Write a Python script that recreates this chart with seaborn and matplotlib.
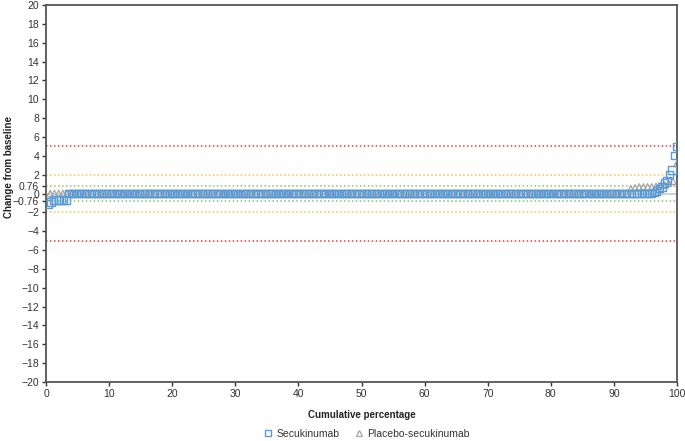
import numpy as np
import pandas as pd
import matplotlib
matplotlib.use("Agg")
import matplotlib.pyplot as plt
from matplotlib.lines import Line2D
import seaborn as sns

# ---- data (sorted change-from-baseline values) ----
secu_low = [-1.1, -0.9, -0.7, -0.7, -0.7, -0.7, -0.7, -0.7]
secu_mid_zero_count = 232
secu_high = [0.1, 0.25, 0.5, 0.7, 1.1, 1.4, 2.0, 2.5, 4.0, 5.0]

placebo_low = []
placebo_mid_zero_count = 138
placebo_high = [0.5, 0.6, 0.7, 0.7, 0.7, 0.7, 0.75, 0.8, 0.9, 1.1, 1.3, 3.2]

series_names = ["Secukinumab", "Placebo-secukinumab"]
ref_lines = [5, 2, 0.76, -0.76, -2, -5]
ref_colors = ["#e8403a", "#f6c34a", "#8dc25a", "#8dc25a", "#f6c34a", "#e8403a"]
yticks = [20, 18, 16, 14, 12, 10, 8, 6, 4, 2, 0.76, 0, -0.76, -2, -4, -6, -8,
          -10, -12, -14, -16, -18, -20]
xticks = [0, 10, 20, 30, 40, 50, 60, 70, 80, 90, 100]

secu_vals = secu_low + [0.0] * secu_mid_zero_count + secu_high
plac_vals = placebo_low + [0.0] * placebo_mid_zero_count + placebo_high


def cum_df(vals, name):
    n = len(vals)
    return pd.DataFrame({
        "pct": [(i + 1) / n * 100 for i in range(n)],
        "change": sorted(vals),
        "group": name,
    })


df_s = cum_df(secu_vals, series_names[0])
df_p = cum_df(plac_vals, series_names[1])

sns.set_theme(style="white")
plt.rcParams["font.family"] = ["Liberation Sans", "DejaVu Sans"]

fig = plt.figure(figsize=(6.85, 4.41), dpi=100)
ax = fig.add_axes([46 / 685, 1 - 382 / 441, (677 - 46) / 685, (382 - 5) / 441])

ax.axhline(0, color="#c8c8c8", lw=1.2, zorder=1)
for yv, c in zip(ref_lines, ref_colors):
    ax.axhline(yv, color=c, lw=1.1, ls=(0, (1, 1.6)), zorder=1)

blue = "#5b9bd5"
grey = "#a6a6a6"
sns.scatterplot(data=df_p, x="pct", y="change", marker="^", s=22,
                facecolors="none", edgecolor=grey, linewidth=0.9, ax=ax,
                zorder=3, legend=False)
sns.scatterplot(data=df_s, x="pct", y="change", marker="s", s=28,
                facecolors="none", edgecolor=blue, linewidth=1.0, ax=ax,
                zorder=4, legend=False)

ax.set_xlim(0, 100)
ax.set_ylim(-20, 20)
ax.set_xticks(xticks)
ax.set_yticks(yticks)
ax.set_yticklabels([("%g" % t).replace("-", "\u2212") for t in yticks])
ax.tick_params(axis="both", labelsize=7.5, colors="#333333", length=3,
               width=1, direction="out", pad=2)
ax.tick_params(axis="x", bottom=True)
ax.tick_params(axis="y", left=True)
for sp in ax.spines.values():
    sp.set_color("#555555")
    sp.set_linewidth(1.3)

ax.set_xlabel("Cumulative percentage", fontsize=7, fontweight="bold",
              color="#222222")
ax.xaxis.set_label_coords(0.5, -28 / 377)
ax.set_ylabel("Change from baseline", fontsize=7, fontweight="bold",
              color="#222222", va="center")
ax.yaxis.set_label_coords(-37 / 631, 0.57)

handles = [
    Line2D([], [], marker="s", ls="none", markerfacecolor="none",
           markeredgecolor=blue, markersize=5, markeredgewidth=1.0),
    Line2D([], [], marker="^", ls="none", markerfacecolor="none",
           markeredgecolor=grey, markersize=5, markeredgewidth=0.9),
]
fig.legend(handles, series_names, loc="center", bbox_to_anchor=(0.535, 0.017),
           ncol=2, frameon=False, fontsize=7.5, handletextpad=0.3,
           columnspacing=1.4, handlelength=1.0, labelcolor="#333333")

fig.savefig("out.png", dpi=100)
